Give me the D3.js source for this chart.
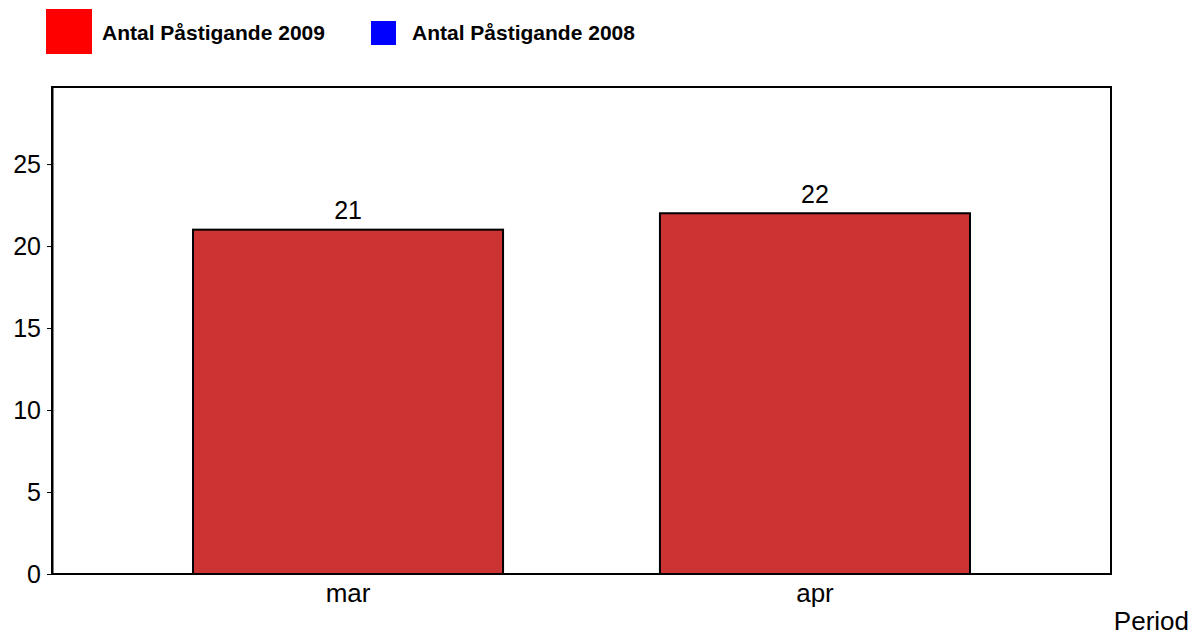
<!DOCTYPE html>
<html>
<head>
<meta charset="utf-8">
<script src="https://cdn.jsdelivr.net/npm/d3@7"></script>
<style>
  body { margin: 0; background: #fff; }
  text { font-family: Arial, "Liberation Sans", sans-serif; }
</style>
</head>
<body>
<div id="chart"></div>
<script>
var categories = ["mar", "apr"];
var values2009 = [21, 22];
var values2008 = [null, null];
var seriesNames = ["Antal Påstigande 2009", "Antal Påstigande 2008"];
var yTicks = [0, 5, 10, 15, 20, 25];

var width = 1202,
    height = 636,
    plot = {left: 52, top: 87, right: 1111, bottom: 574},
    fontFam = "Arial, 'Liberation Sans', sans-serif";

var svg = d3.select("#chart").append("svg")
    .attr("width", width)
    .attr("height", height);

var x = d3.scaleBand()
    .domain(categories)
    .range([plot.left, plot.right])
    .paddingInner(0.336)
    .paddingOuter(0.302);

var y = d3.scaleLinear()
    .domain([0, d3.max(values2009) * 1.35])
    .range([plot.bottom, plot.top]);

// frame
svg.append("rect")
    .attr("x", plot.left)
    .attr("y", plot.top)
    .attr("width", plot.right - plot.left)
    .attr("height", plot.bottom - plot.top)
    .attr("fill", "none")
    .attr("stroke", "#000")
    .attr("stroke-width", 2);

// y axis
var yAxis = svg.append("g")
    .attr("transform", "translate(" + plot.left + ",0)")
    .call(d3.axisLeft(y).tickValues(yTicks).tickSize(5).tickSizeOuter(0).tickPadding(6));
yAxis.select(".domain").attr("stroke-width", 2);
yAxis.selectAll("text").attr("font-size", 25).attr("fill", "#000")
    .style("font-family", fontFam);

// x axis labels
var xAxis = svg.append("g")
    .attr("transform", "translate(0," + plot.bottom + ")")
    .call(d3.axisBottom(x).tickSize(0).tickPadding(10));
xAxis.select(".domain").remove();
xAxis.selectAll("text").attr("font-size", 26).attr("fill", "#000")
    .style("font-family", fontFam);

// bars
var data = categories.map(function(c, i) { return {cat: c, v: values2009[i]}; });

svg.selectAll(".bar")
    .data(data)
    .enter().append("rect")
    .attr("class", "bar")
    .attr("x", function(d) { return x(d.cat); })
    .attr("y", function(d) { return y(d.v); })
    .attr("width", x.bandwidth())
    .attr("height", function(d) { return y(0) - y(d.v); })
    .attr("fill", "#cc3333")
    .attr("stroke", "#000")
    .attr("stroke-width", 2);

svg.selectAll(".barLabel")
    .data(data)
    .enter().append("text")
    .attr("class", "barLabel")
    .attr("x", function(d) { return x(d.cat) + x.bandwidth() / 2; })
    .attr("y", function(d) { return y(d.v) - 10.5; })
    .attr("text-anchor", "middle")
    .attr("font-size", 25)
    .text(function(d) { return d.v; });

// axis title
svg.append("text")
    .attr("x", 1189)
    .attr("y", 630)
    .attr("text-anchor", "end")
    .attr("font-size", 26)
    .text("Period");

// legend
var legend = [
    {name: seriesNames[0], color: "#ff0000", x: 46, y: 9, w: 46, h: 45, tx: 102},
    {name: seriesNames[1], color: "#0000ff", x: 371, y: 21, w: 25, h: 24, tx: 412}
];
var lg = svg.selectAll(".legend")
    .data(legend)
    .enter().append("g")
    .attr("class", "legend");
lg.append("rect")
    .attr("x", function(d) { return d.x; })
    .attr("y", function(d) { return d.y; })
    .attr("width", function(d) { return d.w; })
    .attr("height", function(d) { return d.h; })
    .attr("fill", function(d) { return d.color; });
lg.append("text")
    .attr("x", function(d) { return d.tx; })
    .attr("y", 40)
    .attr("font-size", 21)
    .attr("font-weight", "bold")
    .text(function(d) { return d.name; });
</script>
</body>
</html>
